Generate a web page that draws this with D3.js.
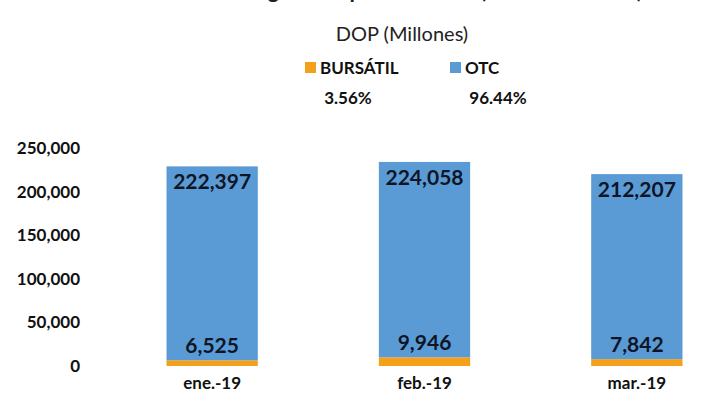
<!DOCTYPE html>
<html>
<head>
<meta charset="utf-8">
<script src="https://cdn.jsdelivr.net/npm/d3@7"></script>
<style>
	body { margin: 0; background: #fff; }
	svg { display: block; font-family: Lato, "Open Sans", sans-serif; }
</style>
</head>
<body>
<svg id="chart"></svg>
<script>
// data
const months = ['ene.-19', 'feb.-19', 'mar.-19']
const bursatil = [6525, 9946, 7842]
const otc = [222397, 224058, 212207]
const yTicks = [0, 50000, 100000, 150000, 200000, 250000]
const seriesNames = ['BURSÁTIL', 'OTC']
const shares = ['3.56%', '96.44%']

const WIDTH = 711
const HEIGHT = 405
const COLORS = {BURSÁTIL: '#f5a01a', OTC: '#5b9bd5'}

const svg = d3.select('#chart')
	.attr('width', WIDTH)
	.attr('height', HEIGHT)

const rows = months.map((m, i) => ({month: m, BURSÁTIL: bursatil[i], OTC: otc[i]}))
const stacked = d3.stack().keys(seriesNames)(rows)

const x = d3.scaleBand()
	.domain(months)
	.range([106, 743])
	.paddingInner(0.57)
	.paddingOuter(0.285)

const y = d3.scaleLinear()
	.domain([0, 250000])
	.range([366, 148])

// title (first line is cut off by the top edge, only its lower edge shows)
svg.append('text')
	.attr('x', 395)
	.attr('y', -2)
	.attr('text-anchor', 'middle')
	.attr('font-weight', 'bold')
	.attr('font-size', 22)
	.attr('fill', '#222')
	.text('Volumen Negociado por Mercado (Bursátil vs OTC)')

svg.append('text')
	.attr('x', 402)
	.attr('y', 41)
	.attr('text-anchor', 'middle')
	.attr('font-size', 20)
	.attr('fill', '#222')
	.text('DOP (Millones)')

// legend
const legendX = [305, 450]
const shareX = [348, 498]
seriesNames.forEach((name, i) => {
	svg.append('rect')
		.attr('x', legendX[i])
		.attr('y', 62)
		.attr('width', 11)
		.attr('height', 11)
		.attr('fill', COLORS[name])
	svg.append('text')
		.attr('x', legendX[i] + 15)
		.attr('y', 74)
		.attr('font-weight', 'bold')
		.attr('font-size', 17)
		.attr('fill', '#111')
		.text(name)
	svg.append('text')
		.attr('x', shareX[i])
		.attr('y', 104)
		.attr('text-anchor', 'middle')
		.attr('font-weight', 'bold')
		.attr('font-size', 17)
		.attr('fill', '#111')
		.text(shares[i])
})

// y axis labels only, no line
const yAxis = d3.axisLeft(y)
	.tickValues(yTicks)
	.tickFormat(d3.format(','))
	.tickSize(0)
	.tickPadding(0)
const yg = svg.append('g')
	.attr('transform', 'translate(80,0)')
	.call(yAxis)
yg.select('.domain').remove()
yg.selectAll('text')
	.attr('font-family', 'Lato, sans-serif')
	.attr('font-weight', 'bold')
	.attr('font-size', 17)
	.attr('fill', '#111')

// x axis labels
const xAxis = d3.axisBottom(x).tickSize(0).tickPadding(0)
const xg = svg.append('g')
	.attr('transform', 'translate(0,377)')
	.call(xAxis)
xg.select('.domain').remove()
xg.selectAll('text')
	.attr('font-family', 'Lato, sans-serif')
	.attr('font-weight', 'bold')
	.attr('font-size', 17)
	.attr('fill', '#111')

// bars
svg.append('g')
	.selectAll('g')
	.data(stacked)
	.join('g')
	.attr('fill', d => COLORS[d.key])
	.selectAll('rect')
	.data(d => d)
	.join('rect')
	.attr('x', d => x(d.data.month))
	.attr('width', x.bandwidth())
	.attr('y', d => y(d[1]))
	.attr('height', d => y(d[0]) - y(d[1]))

// value labels
const fmt = d3.format(',')
const labels = svg.append('g')
	.attr('font-weight', 'bold')
	.attr('font-size', 21)
	.attr('fill', '#0d1526')
	.attr('text-anchor', 'middle')

labels.selectAll('text.otc')
	.data(rows)
	.join('text')
	.attr('class', 'otc')
	.attr('x', d => x(d.month) + x.bandwidth() / 2)
	.attr('y', d => y(d.BURSÁTIL + d.OTC) + 23)
	.text(d => fmt(d.OTC))

labels.selectAll('text.bur')
	.data(rows)
	.join('text')
	.attr('class', 'bur')
	.attr('x', d => x(d.month) + x.bandwidth() / 2)
	.attr('y', d => y(d.BURSÁTIL) - 7)
	.text(d => fmt(d.BURSÁTIL))
</script>
</body>
</html>
